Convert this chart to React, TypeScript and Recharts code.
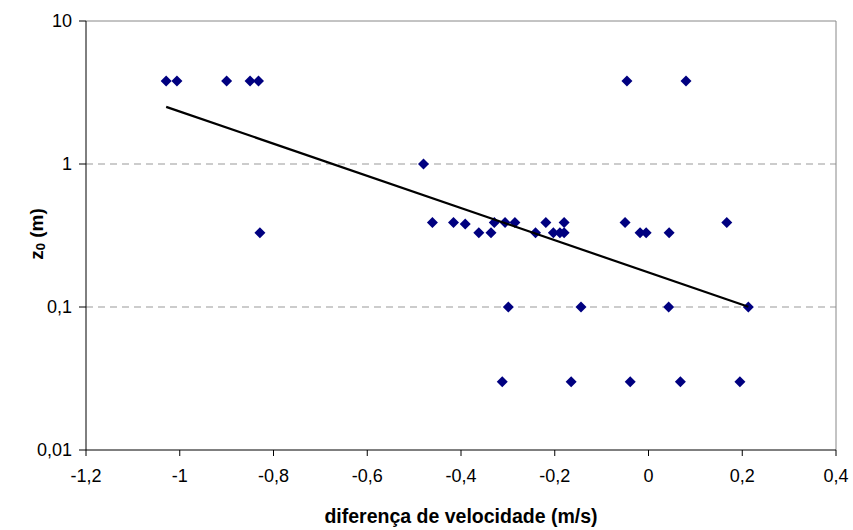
import { ScatterChart, Scatter, XAxis, YAxis, ReferenceLine, Label } from "recharts";

// velocity difference (m/s) vs roughness length z0 (m)
const velDiff = [
  -1.029, -1.006, -0.9, -0.85, -0.832, -0.046, 0.08,
  -0.48,
  -0.461, -0.416, -0.329, -0.306, -0.285, -0.219, -0.18, -0.05, 0.167,
  -0.391,
  -0.829, -0.362, -0.336, -0.241, -0.203, -0.189, -0.18, -0.018, -0.005, 0.044,
  -0.299, -0.144, 0.043, 0.213,
  -0.312, -0.165, -0.039, 0.068, 0.195,
];
const z0 = [
  3.8, 3.8, 3.8, 3.8, 3.8, 3.8, 3.8,
  1,
  0.39, 0.39, 0.39, 0.39, 0.39, 0.39, 0.39, 0.39, 0.39,
  0.38,
  0.33, 0.33, 0.33, 0.33, 0.33, 0.33, 0.33, 0.33, 0.33, 0.33,
  0.1, 0.1, 0.1, 0.1,
  0.03, 0.03, 0.03, 0.03, 0.03,
];

const xTicks = [-1.2, -1, -0.8, -0.6, -0.4, -0.2, 0, 0.2, 0.4];
const yTicks = [0.01, 0.1, 1, 10];

const points = velDiff.map((x, i) => ({ x, y: z0[i] }));

// exponential trendline: least squares on log10(z0)
function expTrend() {
  const n = velDiff.length;
  const ly = z0.map((v) => Math.log10(v));
  const mx = velDiff.reduce((a, b) => a + b, 0) / n;
  const my = ly.reduce((a, b) => a + b, 0) / n;
  let sxy = 0;
  let sxx = 0;
  velDiff.forEach((x, i) => {
    sxy += (x - mx) * (ly[i] - my);
    sxx += (x - mx) * (x - mx);
  });
  const b = sxy / sxx;
  const a = my - b * mx;
  const lo = Math.min(...velDiff);
  const hi = Math.max(...velDiff);
  return [lo, hi].map((x) => ({ x, y: Math.pow(10, a + b * x) }));
}
const trend = expTrend();

const fmt = (v: number) => String(v).replace(".", ",");
const font = "'Liberation Sans', Arial, sans-serif";

const Diamond = (props: any) => {
  const { cx, cy } = props;
  const r = 5.5;
  return (
    <path
      d={`M${cx},${cy - r}L${cx + r},${cy}L${cx},${cy + r}L${cx - r},${cy}Z`}
      fill="#000080"
    />
  );
};

const YTitle = () => (
  <text
    transform="translate(36,234) rotate(-90)"
    textAnchor="middle"
    dominantBaseline="central"
    fontFamily={font}
    fontWeight="bold"
    fontSize={19}
    fill="#000"
  >
    z<tspan fontSize={13} dy={4}>0</tspan>
    <tspan dy={-4}> (m)</tspan>
  </text>
);

export default function App() {
  const tickStyle = { fontFamily: font, fontSize: 18, fill: "#000" };
  return (
    <div style={{ position: "absolute", left: 0, top: 0, background: "#fff" }}>
      <ScatterChart
        width={853}
        height={530}
        margin={{ top: 21, right: 17, bottom: 0, left: 0 }}
      >
        <ReferenceLine y={1} stroke="#999" strokeDasharray="7 5" />
        <ReferenceLine y={0.1} stroke="#999" strokeDasharray="7 5" />
        <ReferenceLine y={10} stroke="#888" />
        <ReferenceLine x={0.4} stroke="#888" />
        <XAxis
          type="number"
          dataKey="x"
          domain={[-1.2, 0.4]}
          ticks={xTicks}
          tickFormatter={fmt}
          height={80}
          stroke="#000"
          tick={tickStyle}
          tickSize={6}
          tickMargin={13}
          allowDataOverflow
        >
          <Label
            value="diferença de velocidade (m/s)"
            position="insideBottom"
            offset={7}
            style={{ fontFamily: font, fontWeight: "bold", fontSize: 19.5, fill: "#000" }}
          />
        </XAxis>
        <YAxis
          type="number"
          dataKey="y"
          scale="log"
          domain={[0.01, 10]}
          ticks={yTicks}
          tickFormatter={fmt}
          width={86}
          stroke="#000"
          tick={tickStyle}
          tickSize={7}
          tickMargin={7}
          allowDataOverflow
        />
        <Scatter
          data={points}
          shape={<Diamond />}
          isAnimationActive={false}
        />
        <Scatter
          data={trend}
          line={{ stroke: "#000", strokeWidth: 2.2 }}
          shape={() => null}
          isAnimationActive={false}
        />
        <YTitle />
      </ScatterChart>
    </div>
  );
}
